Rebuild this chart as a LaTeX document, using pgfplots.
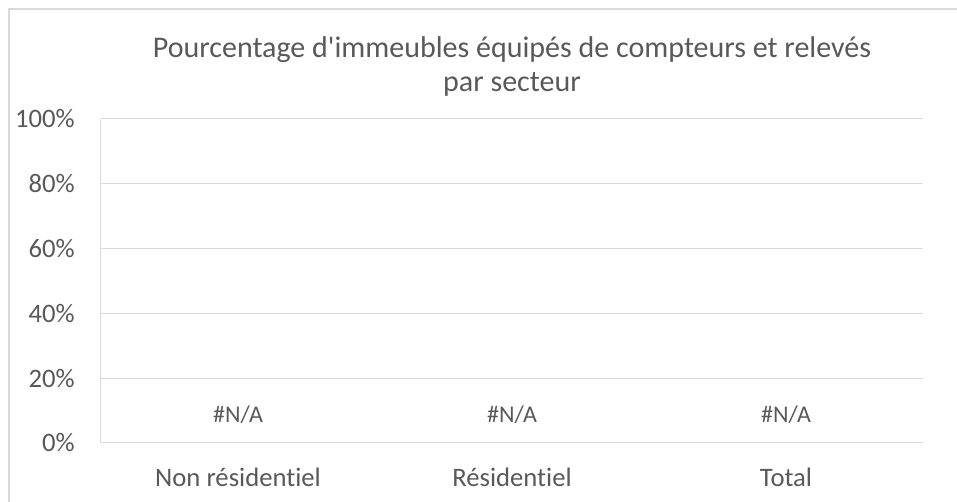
\documentclass[border=0pt]{standalone}
\usepackage{pgfplots}
\pgfplotsset{compat=1.18}
\usepackage{fontspec}
\setmainfont{Carlito}[Ligatures={NoCommon}]
\definecolor{txt}{HTML}{595959}
\definecolor{grid}{HTML}{D9D9D9}
\begin{document}
\begin{tikzpicture}
\useasboundingbox (0,0) rectangle (717.75pt,376.5pt);
\draw[grid, line width=0.9pt] (6.75pt,0) -- (6.75pt,369.75pt) -- (717.75pt,369.75pt);
\begin{axis}[
  at={(75.75pt,44.25pt)}, anchor=south west,
  scale only axis, width=616.5pt, height=243pt,
  xmin=-0.5, xmax=2.5, ymin=0, ymax=100,
  axis x line=bottom, axis y line=left,
  axis line style={draw=grid, line width=0.75pt, -},
  ymajorgrids, grid style={draw=grid, line width=0.75pt},
  major tick length=0pt,
  xtick={0,1,2}, xticklabels={Non résidentiel, Résidentiel, Total},
  ytick={0,20,40,60,80,100}, yticklabels={0\%,20\%,40\%,60\%,80\%,100\%},
  yticklabel style={font=\fontsize{20}{24}\selectfont, text=txt, anchor=east, inner sep=0pt, xshift=-19.5pt},
  xticklabel style={font=\fontsize{20}{24}\selectfont, text=txt, anchor=base, inner sep=0pt, yshift=-33pt},
  clip=false,
]
\addplot[draw=none, fill=none, mark=none, only marks,
  nodes near coords={\#N/A},
  every node near coord/.append style={font=\fontsize{18}{22}\selectfont, text=txt, anchor=base, inner sep=0pt, yshift=15pt}]
  coordinates {(0,0) (1,0) (2,0)};
\end{axis}
\node[anchor=base, text=txt, font=\fontsize{22.5}{27}\selectfont, inner sep=0pt] at (384pt,333pt) {Pourcentage d\textquotesingle immeubles équipés de compteurs et relevés};
\node[anchor=base, text=txt, font=\fontsize{22.5}{27}\selectfont, inner sep=0pt] at (384pt,307.5pt) {par secteur};
\end{tikzpicture}
\end{document}
